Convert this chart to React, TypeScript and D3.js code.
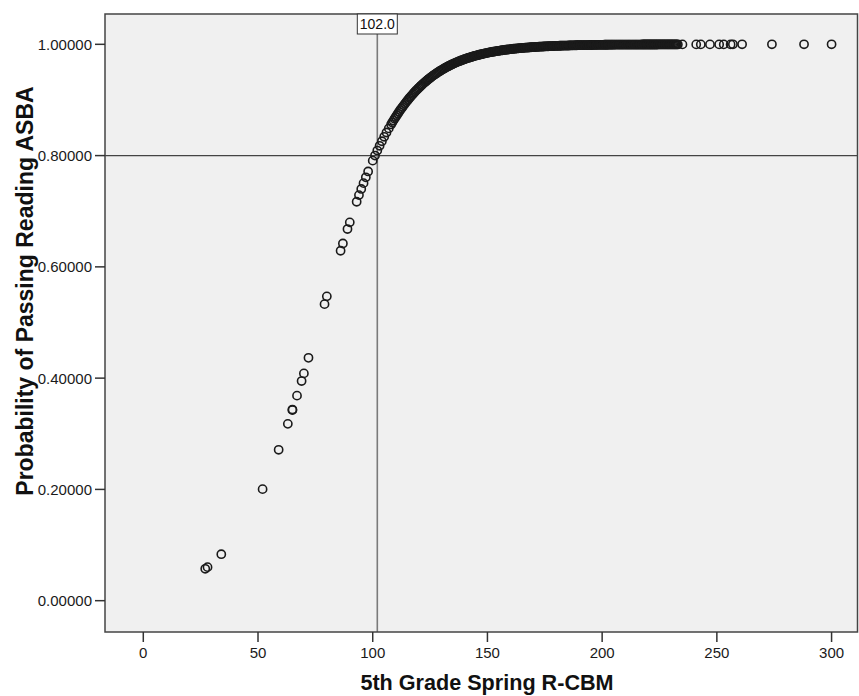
import React from "react";
import * as d3 from "d3";

// R-CBM scores (x) and predicted probabilities (y)
const rcbm: number[] = [
  27, 28, 34, 52, 59, 63, 65, 65, 67, 69, 70, 72, 79, 80, 86, 87, 89, 90,
  93, 94, 95, 96, 97, 98, 100, 101, 102, 103, 104, 105, 106, 107, 108, 109,
  110, 111, 112, 113, 114, 115, 116, 117, 118, 119, 120, 121, 122, 123, 124,
  125, 126, 127, 128, 129, 130, 131, 132, 133, 134, 135, 136, 137, 138, 139,
  140, 141, 142, 143, 144, 145, 146, 147, 148, 149, 150, 151, 152, 153, 154,
  155, 156, 157, 158, 159, 160, 161, 162, 163, 164, 165, 166, 167, 168, 169,
  170, 171, 172, 173, 174, 175, 176, 177, 178, 179, 180, 181, 182, 183, 184,
  185, 186, 187, 188, 189, 190, 191, 192, 193, 194, 195, 196, 197, 198, 199,
  200, 201, 202, 203, 204, 205, 206, 207, 208, 209, 210, 211, 212, 213, 214,
  215, 216, 217, 218, 219, 220, 221, 222, 223, 224, 225, 226, 227, 228, 229,
  230, 231, 232, 233, 235, 241, 243, 247, 251, 253, 256, 257, 261, 274, 288,
  300,
];
const probability: number[] = [
  0.0573, 0.0603, 0.0835, 0.2005, 0.2712, 0.3178, 0.3425, 0.3435, 0.3685,
  0.3948, 0.4085, 0.4365, 0.5330, 0.5470, 0.6290, 0.6420, 0.6680, 0.6800,
  0.7170, 0.7290, 0.7400, 0.7505, 0.7610, 0.7715, 0.7909, 0.8001, 0.8090,
  0.8176, 0.8258, 0.8338, 0.8415, 0.8489, 0.8560, 0.8629, 0.8694, 0.8757,
  0.8818, 0.8875, 0.8930, 0.8983, 0.9034, 0.9082, 0.9128, 0.9173, 0.9214,
  0.9254, 0.9293, 0.9328, 0.9363, 0.9396, 0.9428, 0.9457, 0.9486, 0.9513,
  0.9538, 0.9562, 0.9586, 0.9607, 0.9628, 0.9648, 0.9666, 0.9684, 0.9701,
  0.9717, 0.9732, 0.9747, 0.9760, 0.9773, 0.9786, 0.9797, 0.9808, 0.9818,
  0.9828, 0.9838, 0.9846, 0.9855, 0.9863, 0.9870, 0.9878, 0.9883, 0.9890,
  0.9896, 0.9902, 0.9907, 0.9912, 0.9917, 0.9922, 0.9926, 0.9930, 0.9933,
  0.9937, 0.9940, 0.9943, 0.9947, 0.9950, 0.9952, 0.9955, 0.9957, 0.9960,
  0.9962, 0.9964, 0.9966, 0.9968, 0.9970, 0.9971, 0.9973, 0.9974, 0.9976,
  0.9977, 0.9978, 0.9980, 0.9981, 0.9982, 0.9983, 0.9984, 0.9985, 0.9986,
  0.9987, 0.9987, 0.9988, 0.9989, 0.9989, 0.9990, 0.9991, 0.9991, 0.9992,
  0.9992, 0.9993, 0.9993, 0.9993, 0.9994, 0.9994, 0.9994, 0.9995, 0.9995,
  0.9995, 0.9995, 0.9996, 0.9996, 0.9996, 0.9996, 0.9996, 0.9997, 0.9997,
  0.9997, 0.9997, 0.9997, 0.9997, 0.9997, 0.9998, 0.9998, 0.9998, 0.9998,
  0.9998, 0.9998, 0.9998, 0.9998, 0.9998, 0.9999, 0.9999, 0.9999, 0.9999,
  0.9999, 0.9999, 0.9999, 1.0, 1.0, 1.0, 1.0, 1.0,
];

// additional students with in-between scores in the crowded part of the curve
const rcbmExtra: number[] = [
  108.5, 109.5, 110.5, 111.5, 112.5, 113.5, 114.5, 115.5, 116.5, 117.5,
  118.5, 119.5, 120.5, 121.5, 122.5, 123.5, 124.5, 125.5, 126.5, 127.5,
  128.5, 129.5, 130.5, 131.5, 132.5, 133.5, 134.5, 135.5, 136.5, 137.5,
  138.5, 139.5, 140.5, 141.5, 142.5, 143.5, 144.5, 145.5, 146.5, 147.5,
  148.5, 149.5, 150.5, 151.5, 152.5, 153.5, 154.5, 155.5, 156.5, 157.5,
  158.5, 159.5, 160.5, 161.5, 162.5, 163.5, 164.5, 165.5, 166.5, 167.5,
  168.5, 169.5, 170.5, 171.5, 172.5, 173.5, 174.5, 175.5, 176.5, 177.5,
  178.5, 179.5, 180.5, 181.5, 182.5, 183.5, 184.5, 185.5, 186.5, 187.5,
  188.5, 189.5, 190.5, 191.5, 192.5, 193.5, 194.5, 195.5, 196.5, 197.5,
  198.5, 199.5, 200.5, 201.5, 202.5, 203.5, 204.5, 205.5, 206.5, 207.5,
  208.5, 209.5, 210.5, 211.5, 212.5, 213.5, 214.5, 215.5, 216.5, 217.5,
  218.5, 219.5, 220.5, 221.5, 222.5, 223.5, 224.5, 225.5, 226.5, 227.5,
  228.5, 229.5, 230.5, 231.5, 232.5,
];
const probabilityExtra: number[] = [
  0.8595, 0.8662, 0.8726, 0.8788, 0.8847, 0.8903, 0.8957, 0.9009, 0.9058, 0.9105,
  0.9151, 0.9194, 0.9234, 0.9274, 0.9311, 0.9346, 0.9380, 0.9412, 0.9443, 0.9472,
  0.9500, 0.9526, 0.9550, 0.9574, 0.9597, 0.9618, 0.9638, 0.9657, 0.9675, 0.9693,
  0.9709, 0.9725, 0.9740, 0.9754, 0.9767, 0.9780, 0.9792, 0.9803, 0.9813, 0.9823,
  0.9833, 0.9842, 0.9851, 0.9859, 0.9867, 0.9874, 0.9881, 0.9887, 0.9893, 0.9899,
  0.9905, 0.9910, 0.9915, 0.9920, 0.9924, 0.9928, 0.9932, 0.9935, 0.9939, 0.9942,
  0.9945, 0.9949, 0.9951, 0.9954, 0.9956, 0.9959, 0.9961, 0.9963, 0.9965, 0.9967,
  0.9969, 0.9971, 0.9972, 0.9974, 0.9975, 0.9977, 0.9978, 0.9979, 0.9980, 0.9982,
  0.9983, 0.9984, 0.9985, 0.9986, 0.9986, 0.9987, 0.9988, 0.9988, 0.9989, 0.9990,
  0.9990, 0.9991, 0.9991, 0.9992, 0.9992, 0.9993, 0.9993, 0.9994, 0.9994, 0.9994,
  0.9995, 0.9995, 0.9995, 0.9995, 0.9996, 0.9996, 0.9996, 0.9996, 0.9996, 0.9997,
  0.9997, 0.9997, 0.9997, 0.9997, 0.9997, 0.9997, 0.9998, 0.9998, 0.9998, 0.9998,
  0.9998, 0.9998, 0.9998, 0.9998, 0.9998,
];

const xTicks: number[] = [0, 50, 100, 150, 200, 250, 300];
const yTicks: number[] = [0, 0.2, 0.4, 0.6, 0.8, 1.0];
const cutScore = 102.0;
const cutProbability = 0.8;
const xTitle = "5th Grade Spring R-CBM";
const yTitle = "Probability of Passing Reading ASBA";

const W = 859;
const H = 696;
const plot = { left: 105, right: 857.5, top: 14, bottom: 632 };
const FONT = "'Liberation Sans', Arial, sans-serif";

export default function App() {
  const x = d3
    .scaleLinear()
    .domain([-16.69, 311.3])
    .range([plot.left, plot.right]);
  const y = d3
    .scaleLinear()
    .domain([-0.0563, 1.0545])
    .range([plot.bottom, plot.top]);
  const fmt = d3.format(".5f");
  const points = rcbm
    .map((v, i) => ({ x: v, y: probability[i] }))
    .concat(rcbmExtra.map((v, i) => ({ x: v, y: probabilityExtra[i] })))
    .filter((p) => p.y !== undefined);
  const cx = x(cutScore);

  return (
    <svg
      width={W}
      height={H}
      style={{ position: "absolute", left: 0, top: 0, background: "#fff" }}
      fontFamily={FONT}
    >
      <rect
        x={plot.left}
        y={plot.top}
        width={plot.right - plot.left}
        height={plot.bottom - plot.top}
        fill="#f0f0f0"
      />
      {/* reference lines */}
      <line
        x1={plot.left}
        x2={plot.right}
        y1={y(cutProbability)}
        y2={y(cutProbability)}
        stroke="#444"
        strokeWidth={1.3}
      />
      <line
        x1={cx}
        x2={cx}
        y1={plot.top}
        y2={plot.bottom}
        stroke="#7a7a7a"
        strokeWidth={1.6}
      />
      {/* points */}
      <g fill="none" stroke="#1a1a1a" strokeWidth={1.6}>
        {points.map((p, i) => (
          <circle key={i} cx={x(p.x)} cy={y(p.y)} r={4.1} />
        ))}
      </g>
      {/* frame */}
      <rect
        x={plot.left}
        y={plot.top}
        width={plot.right - plot.left}
        height={plot.bottom - plot.top}
        fill="none"
        stroke="#444"
        strokeWidth={1.5}
      />
      {/* cut score label */}
      <rect
        x={cx - 20}
        y={plot.top}
        width={40}
        height={20}
        fill="#fff"
        stroke="#333"
        strokeWidth={1}
      />
      <text
        x={cx}
        y={plot.top + 15}
        textAnchor="middle"
        fontSize={14}
        fill="#111"
      >
        {cutScore.toFixed(1)}
      </text>
      {/* y axis */}
      {yTicks.map((t) => (
        <g key={t}>
          <line
            x1={plot.left - 10}
            x2={plot.left}
            y1={y(t)}
            y2={y(t)}
            stroke="#333"
            strokeWidth={1.5}
          />
          <text
            x={plot.left - 13}
            y={y(t)}
            dy="0.36em"
            textAnchor="end"
            fontSize={15}
            fill="#1a1a1a"
          >
            {fmt(t)}
          </text>
        </g>
      ))}
      {/* x axis */}
      {xTicks.map((t) => (
        <g key={t}>
          <line
            x1={x(t)}
            x2={x(t)}
            y1={plot.bottom}
            y2={plot.bottom + 10}
            stroke="#333"
            strokeWidth={1.5}
          />
          <text
            x={x(t)}
            y={658}
            textAnchor="middle"
            fontSize={15}
            fill="#1a1a1a"
          >
            {t}
          </text>
        </g>
      ))}
      <text
        x={487}
        y={690}
        textAnchor="middle"
        fontSize={21.6}
        fontWeight="bold"
        fill="#111"
      >
        {xTitle}
      </text>
      <text
        transform={`translate(33,291) rotate(-90)`}
        textAnchor="middle"
        fontSize={23}
        fontWeight="bold"
        fill="#111"
      >
        {yTitle}
      </text>
    </svg>
  );
}
